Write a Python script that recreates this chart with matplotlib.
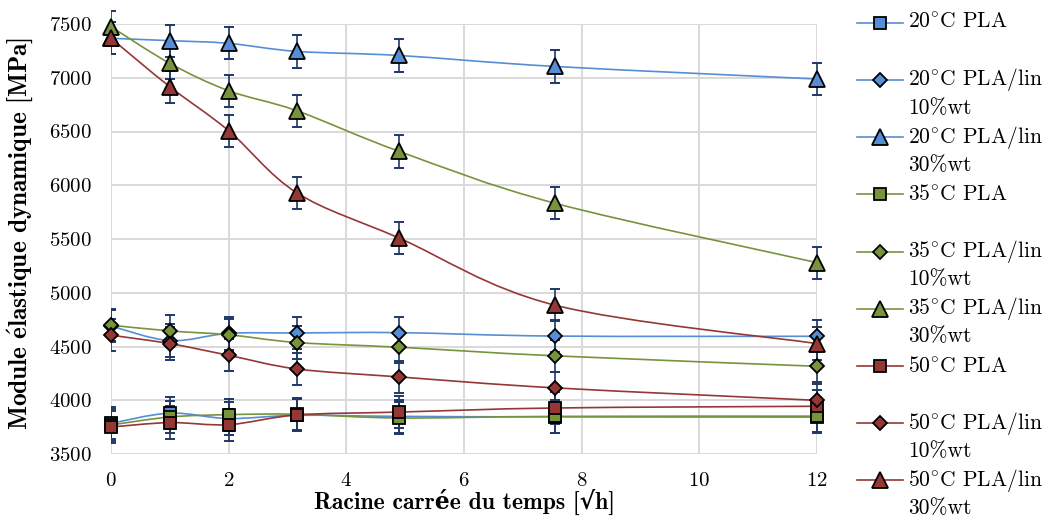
import matplotlib
matplotlib.use("Agg")
import matplotlib.pyplot as plt
from matplotlib.path import Path
from matplotlib.patches import PathPatch, Rectangle
from matplotlib.lines import Line2D

plt.rcParams['font.family'] = ['cmr10', 'DejaVu Serif']
plt.rcParams['mathtext.fontset'] = 'cm'
plt.rcParams['axes.formatter.use_mathtext'] = True

# ---------------- data ----------------
x_sqrt_h = [0, 1, 2, 3.16, 4.90, 7.55, 12]

pla_20 = [3785, 3880, 3830, 3860, 3850, 3845, 3843]
lin10_20 = [4690, 4555, 4622, 4626, 4629, 4597, 4595]
lin30_20 = [7367, 7345, 7320, 7245, 7207, 7105, 6988]
pla_35 = [3770, 3844, 3866, 3870, 3835, 3850, 3852]
lin10_35 = [4698, 4645, 4609, 4537, 4493, 4413, 4316]
lin30_35 = [7475, 7134, 6879, 6693, 6315, 5832, 5280]
pla_50 = [3751, 3792, 3773, 3863, 3890, 3928, 3944]
lin10_50 = [4605, 4527, 4418, 4291, 4217, 4115, 3999]
lin30_50 = [7367, 6916, 6507, 5929, 5508, 4884, 4527]

err_all = [150, 150, 150, 150, 150, 150, 150]

labels = [
    "20$^{\\circ}$C PLA",
    "20$^{\\circ}$C PLA/lin\n10%wt",
    "20$^{\\circ}$C PLA/lin\n30%wt",
    "35$^{\\circ}$C PLA",
    "35$^{\\circ}$C PLA/lin\n10%wt",
    "35$^{\\circ}$C PLA/lin\n30%wt",
    "50$^{\\circ}$C PLA",
    "50$^{\\circ}$C PLA/lin\n10%wt",
    "50$^{\\circ}$C PLA/lin\n30%wt",
]
series = [pla_20, lin10_20, lin30_20, pla_35, lin10_35, lin30_35, pla_50, lin10_50, lin30_50]

BLUE, GREEN, RED = '#558ED5', '#77933C', '#953735'
colors = [BLUE] * 3 + [GREEN] * 3 + [RED] * 3
markers = ['s', 'D', '^'] * 3
msizes = {'s': 9, 'D': 7.5, '^': 11.5}
ERRC = '#1F3864'


def smooth_path(xs, ys):
    """Excel-like smoothed line: cubic Bezier segments through the data points."""
    n = len(xs)
    verts = [(xs[0], ys[0])]
    codes = [Path.MOVETO]
    for i in range(n - 1):
        x0, y0 = (xs[i - 1], ys[i - 1]) if i > 0 else (xs[i], ys[i])
        x1, y1 = xs[i], ys[i]
        x2, y2 = xs[i + 1], ys[i + 1]
        x3, y3 = (xs[i + 2], ys[i + 2]) if i + 2 < n else (x2, y2)
        c1 = (x1 + (x2 - x0) / 6.0, y1 + (y2 - y0) / 6.0)
        c2 = (x2 - (x3 - x1) / 6.0, y2 - (y3 - y1) / 6.0)
        verts += [c1, c2, (x2, y2)]
        codes += [Path.CURVE4] * 3
    return Path(verts, codes)


fig = plt.figure(figsize=(10.52, 5.18), dpi=100)
ax = fig.add_axes([111 / 1052, 1 - 454 / 518, (817 - 111) / 1052, (454 - 24) / 518])

clip_rect = Rectangle((0, -0.2), 1.2, 1.4, transform=ax.transAxes, visible=False)
ax.add_patch(clip_rect)

for k, (ys, col, mk) in enumerate(zip(series, colors, markers)):
    eb = ax.errorbar(x_sqrt_h, ys, yerr=err_all, fmt='none', ecolor=ERRC,
                     elinewidth=1.2, capsize=3.4, capthick=1.4, zorder=2)
    for art in list(eb.lines[1]) + list(eb.lines[2]):
        art.set_clip_path(clip_rect)
    patch = PathPatch(smooth_path(x_sqrt_h, ys), facecolor='none', edgecolor=col,
                      lw=1.2, zorder=3 + k * 0.01)
    ax.add_patch(patch)
for k, (ys, col, mk) in enumerate(zip(series, colors, markers)):
    ax.plot(x_sqrt_h, ys, linestyle='none', marker=mk, ms=msizes[mk],
            markerfacecolor=col, markeredgecolor='black', markeredgewidth=1.3,
            zorder=5 + k * 0.01, clip_on=False)

ax.set_xlim(0, 12)
ax.set_ylim(3500, 7500)
ax.set_xticks([0, 2, 4, 6, 8, 10, 12])
ax.set_yticks(range(3500, 7501, 500))
ax.grid(True, color='#D9D9D9', lw=1.4)
ax.set_axisbelow(True)
for s in ax.spines.values():
    s.set_visible(False)
ax.tick_params(length=0, labelsize=15)
ax.tick_params(axis='x', pad=13)
ax.tick_params(axis='y', pad=14)

bold_fam = ['cmb10', 'DejaVu Serif']
ax.set_xlabel("Racine carrée du temps [\u221ah]",
              fontsize=17, family=bold_fam, weight='bold')
ax.xaxis.set_label_coords(0.5, -0.081)
ax.set_ylabel("Module $\\mathbf{\\acute{e}}$lastique dynamique [MPa]",
              fontsize=18.2, family=bold_fam)
ax.yaxis.set_label_coords(-0.1076, 0.514)

# ---------------- legend (manual, Excel-like) ----------------
W, H = 1052.0, 518.0
y0, dy = 22.7, 57.2
for k, (lab, col, mk) in enumerate(zip(labels, colors, markers)):
    yp = y0 + k * dy
    fy = 1 - yp / H
    fig.add_artist(Line2D([857 / W, 903 / W], [fy, fy], color=col, lw=1.2,
                          transform=fig.transFigure))
    fig.add_artist(Line2D([880 / W], [fy], marker=mk, ms=msizes[mk] * 0.95,
                          markerfacecolor=col, markeredgecolor='black',
                          markeredgewidth=1.3, linestyle='none',
                          transform=fig.transFigure))
    lines = lab.split("\n")
    for j, t in enumerate(lines):
        fig.text(908 / W, 1 - (yp + j * 28) / H, t, fontsize=15.5,
                 ha='left', va='center')

fig.savefig("out.png", dpi=100)
